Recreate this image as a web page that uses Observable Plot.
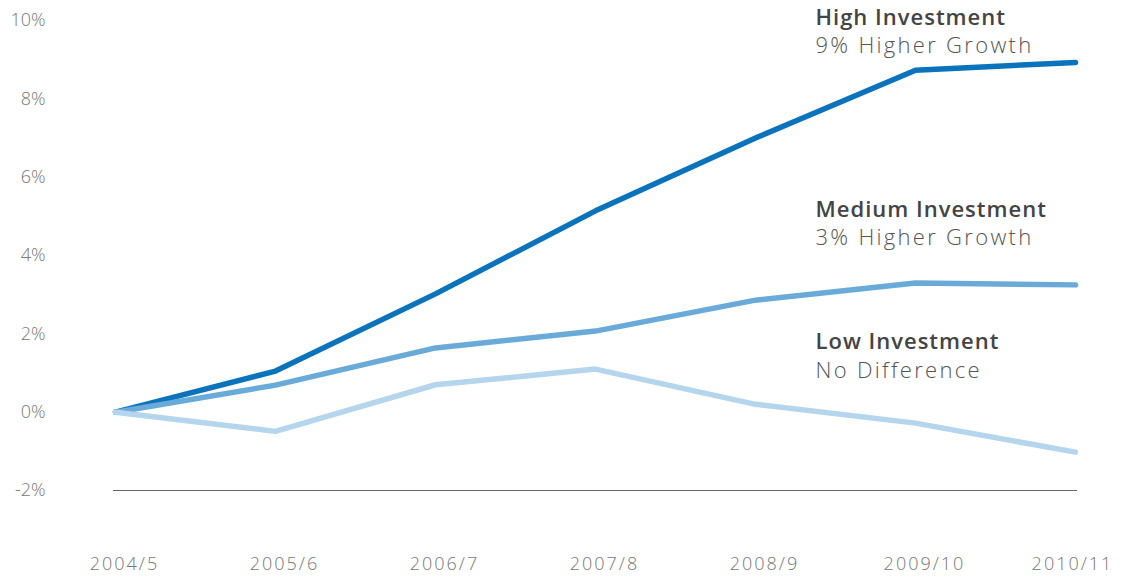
<!DOCTYPE html>
<html>
<head>
<meta charset="utf-8">
<script src="https://cdn.jsdelivr.net/npm/d3@7"></script>
<script src="https://cdn.jsdelivr.net/npm/@observablehq/plot@0.6"></script>
<style>
  html, body { margin: 0; padding: 0; background: #fff; }
  #chart svg { display: block; }
</style>
</head>
<body>
<div id="chart"></div>
<script>
const years = ["2004/5", "2005/6", "2006/7", "2007/8", "2008/9", "2009/10", "2010/11"];
const high = [0, 1.05, 3.02, 5.14, 7.0, 8.73, 8.93];
const medium = [0, 0.69, 1.64, 2.07, 2.86, 3.3, 3.25];
const low = [0, -0.49, 0.7, 1.1, 0.2, -0.28, -1.02];
const yTicks = [-2, 0, 2, 4, 6, 8, 10];

const seriesNames = ["High Investment", "Medium Investment", "Low Investment"];
const seriesSub = ["9% Higher Growth", "3% Higher Growth", "No Difference"];
const seriesValues = [high, medium, low];
const colors = ["#0b73bb", "#6aaad8", "#b4d5ec"];

const rows = [];
seriesNames.forEach((s, i) => years.forEach((yr, j) => rows.push({series: s, year: yr, value: seriesValues[i][j]})));

// annotation anchors (y in data units)
const titleY = [10.06, 5.16, 1.79];
const subY = [9.34, 4.44, 1.05];
const ann = seriesNames.map((s, i) => ({series: s, sub: seriesSub[i], ty: titleY[i], sy: subY[i]}));

const font = "'Open Sans', sans-serif";

const chart = Plot.plot({
  width: 1121,
  height: 582,
  marginLeft: 113,
  marginRight: 44,
  marginTop: 20,
  marginBottom: 92,
  style: {fontFamily: font, background: "#fff"},
  x: {type: "point", domain: years, padding: 0, label: null},
  y: {domain: [-2, 10], label: null},
  color: {domain: seriesNames, range: colors},
  marks: [
    Plot.axisY({ticks: yTicks, tickSize: 0, tickPadding: 68, tickFormat: d => d + "%", fontSize: 18, fontWeight: 300, fill: "#777", label: null}),
    Plot.axisX({ticks: years.slice(0, -1), tickSize: 0, tickPadding: 67, dx: 9, fontSize: 18, fontWeight: 300, fill: "#777", label: null}),
    Plot.axisX({ticks: years.slice(-1), tickSize: 0, tickPadding: 67, dx: -3, fontSize: 18, fontWeight: 300, fill: "#777", label: null}),
    Plot.ruleY([-2], {stroke: "#666", strokeWidth: 1}),
    Plot.line(rows, {x: "year", y: "value", z: "series", stroke: "series", strokeWidth: 5.5, strokeLinecap: "round", strokeLinejoin: "round"}),
    Plot.text(ann, {x: () => "2009/10", y: "ty", text: "series", dx: -100, textAnchor: "start", lineAnchor: "middle", fontSize: 22, fontWeight: 600, fill: "#444"}),
    Plot.text(ann, {x: () => "2009/10", y: "sy", text: "sub", dx: -100, textAnchor: "start", lineAnchor: "middle", fontSize: 22, fontWeight: 300, fill: "#555"})
  ]
});
d3.select(chart).selectAll("text").each(function() {
  const t = this.textContent;
  if (years.includes(t)) this.style.letterSpacing = "2px";
  else if (seriesNames.includes(t)) this.style.letterSpacing = "1px";
  else if (seriesSub.includes(t)) this.style.letterSpacing = "2.3px";
});
document.getElementById("chart").appendChild(chart);
</script>
</body>
</html>
